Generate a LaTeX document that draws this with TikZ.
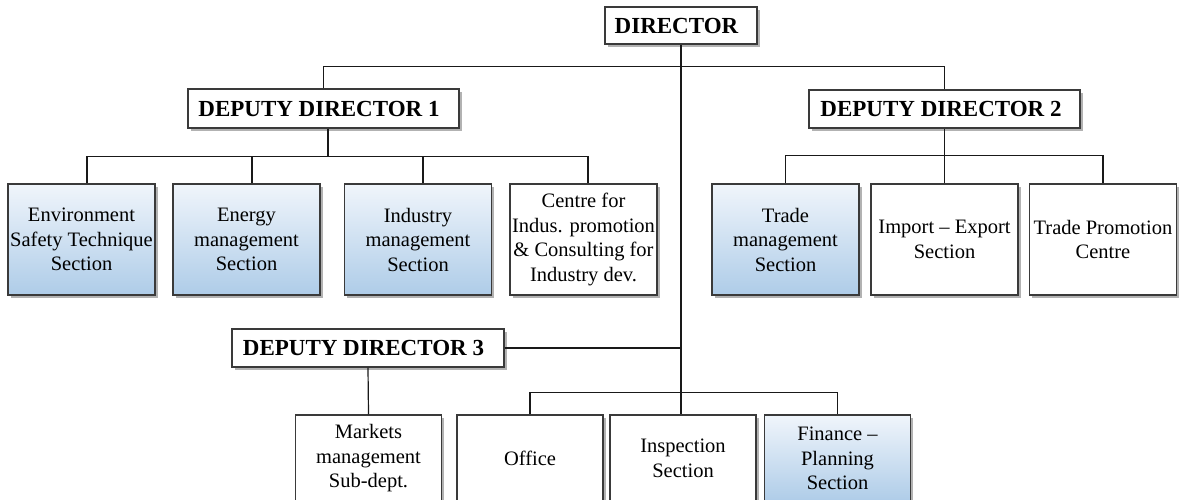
\documentclass[tikz,border=0pt]{standalone}
\usepackage{fontspec}
\setmainfont{Liberation Serif}
\usetikzlibrary{shadows,calc}
\definecolor{gtop}{HTML}{F0F5FB}
\definecolor{gbot}{HTML}{AECCE8}
\definecolor{edgec}{HTML}{3A3A3A}
\begin{document}
\begin{tikzpicture}[x=1pt,y=-1pt,
  box/.style={draw=edgec, line width=1.3pt, fill=white, inner sep=0pt, align=center,
    font=\fontsize{20.5}{24.5}\selectfont,
    drop shadow={shadow xshift=2.5pt,shadow yshift=-2.5pt,fill=black!55,opacity=0.55}},
  bluebox/.style={box, top color=gtop, bottom color=gbot},
  headbox/.style={box, font=\fontsize{23}{27}\selectfont\bfseries},
  sec/.style={minimum width=147pt, minimum height=111pt},
  low/.style={minimum width=146pt, minimum height=87pt},
  link/.style={draw=black!90, line width=1.2pt},
  ]
\useasboundingbox (0,0) rectangle (1181,499);
\clip (0,0) rectangle (1181,499);

% heads
\node[headbox, minimum width=152pt, minimum height=37pt] (dir) at (681,25.5) {\hspace*{-9pt}DIRECTOR};
\node[headbox, minimum width=271pt, minimum height=39pt] (dd1) at (323.5,108.5) {\hspace*{-9pt}DEPUTY DIRECTOR 1};
\node[headbox, minimum width=271pt, minimum height=38pt] (dd2) at (944.5,109) {\hspace*{-7pt}DEPUTY DIRECTOR 2};
\node[headbox, minimum width=272pt, minimum height=38pt] (dd3) at (368,348) {\hspace*{-9pt}DEPUTY DIRECTOR 3};

% top row
\node[bluebox, sec] (env) at (81.5,239.5) {Environment\\Safety Technique\\Section};
\node[bluebox, sec] (ene) at (246.5,239.5) {Energy\\management\\Section};
\node[bluebox, sec] (ind) at (418,239.5) {Industry\\management\\Section};
\node[box, sec] (cen) at (583.5,239.5) {Centre for\\Indus. promotion\\\& Consulting for\\Industry dev.};
\node[bluebox, sec] (tra) at (785.5,239.5) {Trade\\management\\Section};
\node[box, sec] (imp) at (944.5,239.5) {Import – Export\\Section};
\node[box, sec] (tpc) at (1103,239.5) {Trade Promotion\\Centre};

% bottom row
\node[box, low] (mkt) at (368.5,458.5) {Markets\\management\\Sub-dept.};
\node[box, low] (off) at (530,458.5) {Office};
\node[box, low] (ins) at (683,458.5) {Inspection\\Section};
\node[bluebox, low] (fin) at (837.5,458.5) {Finance –\\Planning\\Section};

% connectors
\draw[link] (dir.south) -- (dir.south |- ins.north);
\draw[link] (dd1.north) -- ++(0,-22) -| (dd2.north);

\draw[link] ($(dd1.south)+(4.5,0)$) -- ++(0,28.5);
\draw[link] ($(env.north)+(5.5,0)$) -- ++(0,-27) -| ($(cen.north)+(4.5,0)$);
\draw[link] ($(ene.north)+(5.5,0)$) -- ++(0,-27);
\draw[link] ($(ind.north)+(5,0)$) -- ++(0,-27);

\draw[link] (dd2.south) -- (imp.north);
\draw[link] (tra.north) -- ++(0,-28) -| (tpc.north);

\draw[link] (dd3.east) -- (dd3.east -| dir.south);
\draw[link] (dd3.south) -- (mkt.north);
\draw[link] (off.north) -- ++(0,-22) -| (fin.north);
\end{tikzpicture}
\end{document}
